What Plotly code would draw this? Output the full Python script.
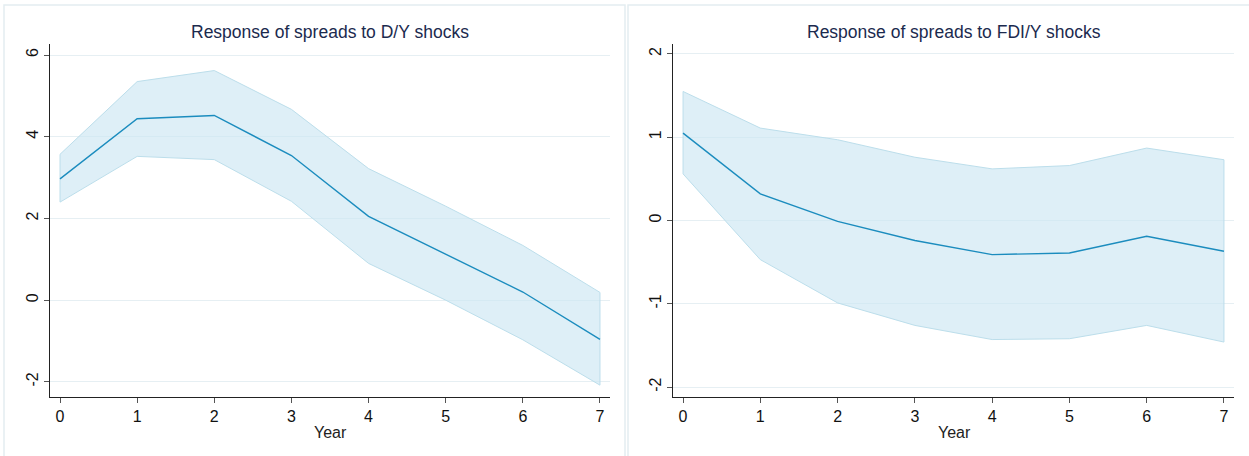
import plotly.graph_objects as go

years = [0, 1, 2, 3, 4, 5, 6, 7]

dy_mid = [2.97, 4.44, 4.52, 3.54, 2.05, 1.13, 0.20, -0.96]
dy_upper = [3.57, 5.35, 5.62, 4.67, 3.22, 2.30, 1.34, 0.19]
dy_lower = [2.40, 3.52, 3.44, 2.42, 0.90, 0.00, -0.97, -2.08]

fdi_mid = [1.05, 0.32, -0.01, -0.24, -0.41, -0.39, -0.19, -0.37]
fdi_upper = [1.55, 1.11, 0.97, 0.76, 0.62, 0.66, 0.87, 0.73]
fdi_lower = [0.56, -0.47, -0.99, -1.26, -1.43, -1.42, -1.26, -1.46]

titles = ["Response of spreads to D/Y shocks", "Response of spreads to FDI/Y shocks"]
x_title = "Year"
dy_ticks = [-2, 0, 2, 4, 6]
fdi_ticks = [-2, -1, 0, 1, 2]

W, H = 1249, 456
LINE = "#1b8cbe"
FILL = "rgba(205,230,242,0.65)"
EDGE = "#bcdeeb"
GRID = "#e6eff3"
TXT = "#1b2a4e"
FONT = "Liberation Sans, Arial"

fig = go.Figure()

def add_panel(mid, up, lo, xa, ya):
    fig.add_trace(go.Scatter(x=years, y=up, mode="lines", line=dict(color=EDGE, width=1),
                             xaxis=xa, yaxis=ya, showlegend=False, hoverinfo="skip"))
    fig.add_trace(go.Scatter(x=years, y=lo, mode="lines", line=dict(color=EDGE, width=1),
                             fill="tonexty", fillcolor=FILL,
                             xaxis=xa, yaxis=ya, showlegend=False, hoverinfo="skip"))
    fig.add_trace(go.Scatter(x=[years[-1], years[-1]], y=[lo[-1], up[-1]], mode="lines",
                             line=dict(color=EDGE, width=1),
                             xaxis=xa, yaxis=ya, showlegend=False, hoverinfo="skip"))
    fig.add_trace(go.Scatter(x=[years[0], years[0]], y=[lo[0], up[0]], mode="lines",
                             line=dict(color=EDGE, width=1),
                             xaxis=xa, yaxis=ya, showlegend=False, hoverinfo="skip"))
    fig.add_trace(go.Scatter(x=years, y=mid, mode="lines", line=dict(color=LINE, width=1.4),
                             xaxis=xa, yaxis=ya, showlegend=False))

add_panel(dy_mid, dy_upper, dy_lower, "x", "y")
add_panel(fdi_mid, fdi_upper, fdi_lower, "x2", "y2")

ydom = [(456 - 397) / H, (456 - 44) / H]

xcommon = dict(tickmode="array", tickvals=years, ticktext=[str(v) for v in years],
               showline=True, linecolor="#222", linewidth=1.2, ticks="outside",
               ticklen=5, tickcolor="#555", showgrid=False, zeroline=False,
               tickfont=dict(family=FONT, size=16, color="#111"),
               range=[-0.13, 7.13])
ycommon = dict(showline=True, linecolor="#222", linewidth=1.2, ticks="outside",
               ticklen=5, tickcolor="#555", showgrid=True, gridcolor=GRID, gridwidth=1,
               zeroline=False, tickangle=-90,
               tickfont=dict(family=FONT, size=16, color="#111"))

fig.update_layout(
    width=W, height=H, margin=dict(l=0, r=0, t=0, b=0),
    paper_bgcolor="white", plot_bgcolor="white",
    xaxis=dict(domain=[50 / W, 610 / W], anchor="y", **xcommon),
    yaxis=dict(domain=ydom, anchor="x", range=[-2.37, 6.27], tickvals=dy_ticks,
               ticktext=[str(v) for v in dy_ticks], **ycommon),
    xaxis2=dict(domain=[673 / W, 1234 / W], anchor="y2", **xcommon),
    yaxis2=dict(domain=ydom, anchor="x2", range=[-2.12, 2.12], tickvals=fdi_ticks,
                ticktext=[str(v) for v in fdi_ticks], **ycommon),
)

# panel borders
for x0, x1 in [(4, 625), (628, 1252)]:
    fig.add_shape(type="rect", xref="paper", yref="paper",
                  x0=x0 / W, x1=x1 / W, y0=-0.05, y1=1 - 5 / H,
                  line=dict(color="#e3edf1", width=1.5), layer="below")

ann_font = dict(family=FONT, size=17.5, color=TXT)
for cx, t in [(330, titles[0]), (954, titles[1])]:
    fig.add_annotation(x=cx / W, y=1 - 32 / H, xref="paper", yref="paper", text=t,
                       showarrow=False, font=ann_font, xanchor="center", yanchor="middle")
for cx in [330, 954]:
    fig.add_annotation(x=cx / W, y=1 - 432 / H, xref="paper", yref="paper", text=x_title,
                       showarrow=False, font=dict(family=FONT, size=16, color="#222"),
                       xanchor="center", yanchor="middle")

fig.write_html("out.html", config={"displayModeBar": False},
               post_script="document.body.style.margin='0';document.body.style.overflow='hidden';")
